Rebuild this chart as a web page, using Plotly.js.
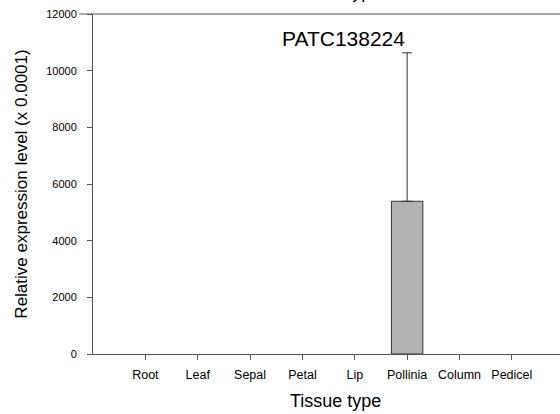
<!DOCTYPE html>
<html>
<head>
<meta charset="utf-8">
<script src="https://cdn.plot.ly/plotly-3.0.1.min.js"></script>
<style>html,body{margin:0;padding:0;background:#fff;}#chart{width:560px;height:414px;}</style>
</head>
<body>
<div id="chart"></div>
<script>
const categories = ["Root", "Leaf", "Sepal", "Petal", "Lip", "Pollinia", "Column", "Pedicel"];
const expression = [0, 0, 0, 0, 0, 5390, 0, 0];
const errorUp = [0, 0, 0, 0, 0, 5240, 0, 0];
const yTicks = [0, 2000, 4000, 6000, 8000, 10000, 12000];
const geneName = "PATC138224";
const xTitle = "Tissue type";
const yTitle = "Relative expression level (x 0.0001)";

const idx = categories.map((c, i) => i);
const errIdx = idx.filter(i => errorUp[i] > 0);
const font = "Liberation Sans, Arial, sans-serif";

const bars = {
  type: "bar",
  x: idx,
  y: expression,
  width: 0.6,
  marker: {color: "#b3b3b3", line: {color: "#333333", width: expression.map(v => v > 0 ? 1 : 0)}},
  hoverinfo: "x+y"
};

const errors = {
  type: "scatter",
  mode: "markers",
  x: errIdx,
  y: errIdx.map(i => expression[i]),
  marker: {size: 1, color: "rgba(0,0,0,0)"},
  error_y: {type: "data", symmetric: false, array: errIdx.map(i => errorUp[i]), arrayminus: errIdx.map(() => 0),
            color: "#333333", thickness: 1, width: 5, visible: true},
  hoverinfo: "skip"
};

const layout = {
  width: 560, height: 414,
  margin: {l: 93, r: 0, t: 14, b: 60},
  paper_bgcolor: "#fff", plot_bgcolor: "#fff",
  showlegend: false,
  xaxis: {
    range: [-1, 7.92],
    tickmode: "array", tickvals: idx, ticktext: categories,
    ticks: "outside", ticklen: 5, tickcolor: "#555", tickwidth: 1,
    ticklabelstandoff: 4,
    showline: true, linecolor: "#555", linewidth: 1,
    showgrid: false, zeroline: false,
    tickfont: {family: font, size: 12.5, color: "#000"}
  },
  yaxis: {
    range: [0, 12000],
    tickmode: "array", tickvals: yTicks, ticktext: yTicks.map(String),
    ticks: "outside", ticklen: 5, tickcolor: "#555", tickwidth: 1,
    ticklabelstandoff: 8,
    showline: true, linecolor: "#555", linewidth: 1,
    showgrid: false, zeroline: false,
    tickfont: {family: font, size: 11, color: "#000"},
    title: {text: yTitle, font: {family: font, size: 17, color: "#000"}, standoff: 14}
  },
  shapes: [
    {type: "line", xref: "paper", yref: "paper", x0: -0.03, x1: 1, y0: 1, y1: 1,
     line: {color: "#555", width: 1}}
  ],
  annotations: [
    {text: geneName, xref: "paper", yref: "paper", x: 0.537, y: 0.929, xanchor: "center", yanchor: "middle",
     showarrow: false, font: {family: font, size: 21, color: "#000"}},
    {text: xTitle, xref: "paper", yref: "paper", x: 0.52, y: -0.137, xanchor: "center", yanchor: "middle",
     showarrow: false, font: {family: font, size: 18, color: "#000"}},
    {text: xTitle, xref: "paper", yref: "paper", x: 0.52, y: 1.029, xanchor: "center", yanchor: "bottom",
     showarrow: false, font: {family: font, size: 18, color: "#000"}}
  ]
};

Plotly.newPlot("chart", [bars, errors], layout, {displayModeBar: false, staticPlot: true});
</script>
</body>
</html>
